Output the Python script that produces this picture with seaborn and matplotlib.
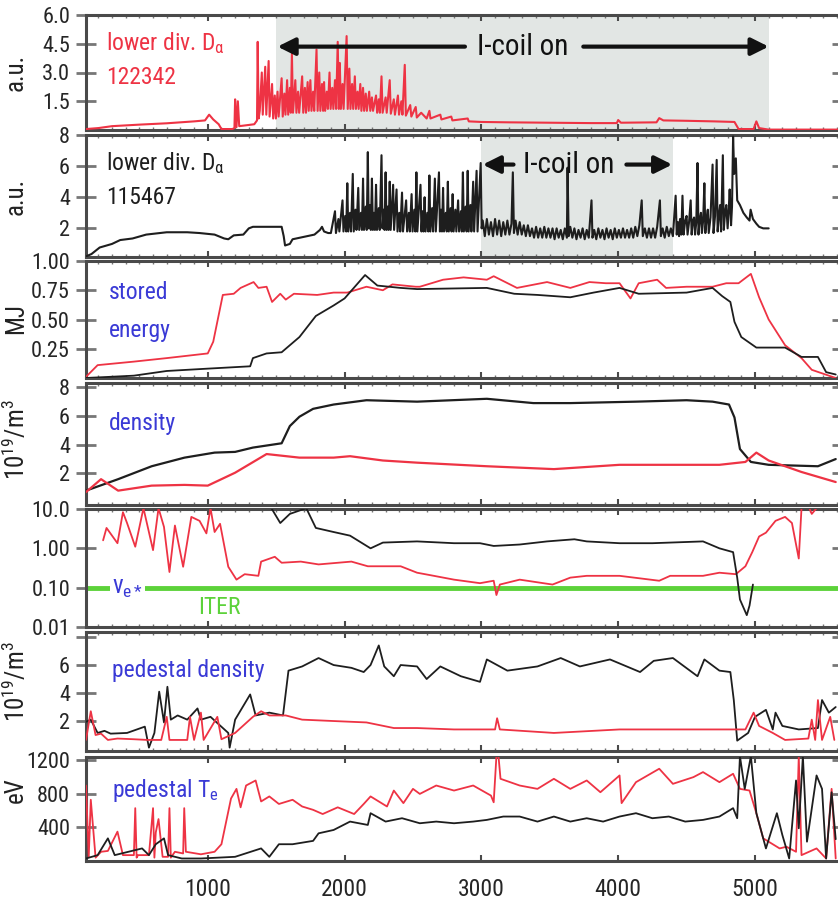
import numpy as np
import pandas as pd
import matplotlib
matplotlib.use("Agg")
import matplotlib.pyplot as plt
from matplotlib import font_manager as fm
from matplotlib.ticker import MultipleLocator, FixedLocator, NullLocator
import seaborn as sns

# ---------------- data ----------------
# Panel 1: lower divertor D-alpha, shot 122342 (a.u.)
da1_t = [110, 200, 300, 500, 700, 900, 980, 1010, 1040, 1080, 1100, 1180, 1195, 1200, 1210, 1220, 1230,
         1340, 1360, 1365, 1372, 1380,
         1395, 1402, 1420, 1428, 1445, 1452, 1470, 1478, 1490, 1498, 1510, 1518, 1540, 1548, 1560, 1568,
         1580, 1588, 1600, 1607, 1615, 1623, 1640, 1648, 1660, 1668, 1690, 1698, 1710, 1718, 1730, 1738,
         1750, 1758, 1770, 1778, 1795, 1803, 1815, 1823, 1835, 1843, 1850, 1858, 1870, 1878, 1890, 1898,
         1910, 1918, 1930, 1938, 1950, 1958, 1965, 1973, 1985, 1993, 2015, 2023, 2035, 2043, 2055, 2063,
         2075, 2083, 2095, 2103, 2115, 2123, 2135, 2143, 2155, 2163, 2180, 2188, 2200, 2208, 2230, 2238,
         2250, 2258, 2270, 2278, 2300, 2308, 2330, 2338, 2360, 2368, 2390, 2398, 2415, 2423, 2440, 2448,
         2480, 2488, 2520, 2528, 2560, 2600, 2620, 2628, 2700, 2708, 2780, 2788, 2900, 2908,
         3000, 3200, 3500, 3800, 3990, 4000, 4020, 4280, 4300, 4330, 4500, 4700, 4850, 4880, 4990,
         5010, 5030, 5100, 5640]
da1_y = [0.05, 0.1, 0.2, 0.28, 0.35, 0.45, 0.5, 0.8, 0.55, 0.3, 0.05, 0.05, 0.1, 1.6, 0.15, 1.5, 0.2,
         0.3, 0.5, 4.6, 0.6, 1.0,
         3.0, 0.8, 3.3, 0.8, 3.6, 0.7, 2.4, 0.6, 1.8, 0.6, 2.0, 0.7, 2.7, 0.7, 1.9, 0.8,
         2.6, 0.8, 2.2, 0.9, 4.0, 0.9, 2.6, 0.9, 2.0, 0.9, 2.8, 0.9, 2.2, 0.9, 2.5, 1.0,
         2.6, 1.0, 2.0, 1.0, 4.2, 1.0, 3.0, 1.0, 2.4, 1.0, 2.5, 1.0, 2.0, 1.1, 3.0, 1.1,
         2.2, 1.1, 2.6, 1.1, 4.6, 1.1, 3.5, 1.1, 2.4, 1.1, 4.9, 1.1, 3.2, 1.1, 2.4, 1.1,
         2.8, 1.1, 2.0, 1.1, 2.4, 1.0, 2.2, 1.0, 1.9, 1.0, 2.0, 1.0, 1.7, 1.0, 1.8, 0.9,
         1.6, 0.9, 2.8, 0.9, 1.7, 0.9, 2.6, 0.85, 1.6, 0.8, 1.8, 0.8, 1.5, 0.8, 3.4, 0.75,
         1.3, 0.7, 1.2, 0.65, 0.9, 0.6, 1.0, 0.6, 0.8, 0.55, 0.7, 0.5, 0.6, 0.45,
         0.42, 0.4, 0.38, 0.36, 0.36, 0.52, 0.38, 0.4, 0.62, 0.5, 0.48, 0.45, 0.42, 0.05, 0.05,
         0.45, 0.1, 0.02, 0.02]

# Panel 2: lower divertor D-alpha, shot 115467 (a.u.)
da2_t = [110, 150, 210, 300, 360, 450, 550, 700, 850, 940, 1050, 1120, 1150, 1190, 1260, 1300, 1330,
         1450, 1540, 1555, 1565, 1600, 1620, 1700, 1780, 1820, 1835, 1850, 1880, 1900,
         1930, 1937, 1955, 1962, 1985, 1992, 2005, 2012, 2020, 2027, 2040, 2047, 2060, 2067, 2080, 2087,
         2100, 2107, 2120, 2127, 2135, 2142, 2155, 2162, 2170, 2177, 2185, 2192, 2200, 2207, 2215, 2222,
         2230, 2237, 2250, 2257, 2270, 2277, 2285, 2292, 2300, 2307, 2315, 2322, 2330, 2337, 2355, 2362,
         2380, 2387, 2400, 2407, 2420, 2427, 2450, 2457, 2470, 2477, 2490, 2497, 2510, 2517, 2525, 2532,
         2555, 2562, 2570, 2577, 2585, 2592, 2605, 2612, 2620, 2627, 2640, 2647, 2660, 2667, 2690, 2697,
         2705, 2712, 2720, 2727, 2740, 2747, 2755, 2762, 2775, 2782, 2790, 2797, 2810, 2817, 2830, 2837,
         2850, 2857, 2865, 2872, 2885, 2892, 2900, 2907, 2920, 2927, 2940, 2947, 2965, 2972, 2995, 3002,
         3010, 3025, 3040, 3055, 3070, 3085, 3100, 3115, 3130, 3145, 3160, 3175, 3190, 3205, 3220, 3230,
         3238, 3250, 3265, 3280, 3295, 3310, 3325, 3340, 3355, 3370, 3385, 3400, 3415, 3430, 3445, 3460,
         3475, 3490, 3505, 3520, 3535, 3550, 3565, 3580, 3595, 3610, 3625, 3630, 3638, 3650, 3665, 3680,
         3695, 3710, 3725, 3740, 3755, 3770, 3785, 3805, 3812, 3825, 3840, 3855, 3870, 3885, 3900, 3915,
         3930, 3945, 3960, 3975, 3990, 4005, 4020, 4035, 4050, 4065, 4080, 4095, 4110, 4125, 4140, 4155,
         4172, 4180, 4195, 4210, 4225, 4240, 4255, 4270, 4285, 4305, 4312, 4325, 4340, 4355, 4370, 4385,
         4400, 4420, 4428, 4437, 4445, 4452, 4461, 4470, 4478, 4490, 4500, 4507, 4518, 4530, 4537, 4546,
         4555, 4562, 4571, 4580, 4587, 4596, 4605, 4612, 4621, 4630, 4637, 4646, 4655, 4662, 4675, 4690,
         4697, 4708, 4720, 4727, 4736, 4745, 4752, 4765, 4772, 4781, 4790, 4800, 4808, 4815, 4825, 4832,
         4840, 4848, 4860, 4870, 4890, 4915, 4940, 4960, 4968, 4985, 5010, 5030, 5060, 5100]
da2_y = [0.2, 0.35, 0.77, 1.0, 1.25, 1.35, 1.6, 1.75, 1.75, 1.7, 1.6, 1.35, 1.3, 1.55, 1.6, 2.0, 2.1,
         2.1, 2.1, 1.5, 0.9, 1.0, 1.3, 1.45, 1.6, 1.9, 2.1, 1.8, 1.7, 1.7,
         3.1, 1.7, 2.6, 1.8, 3.8, 1.8, 2.8, 1.8, 4.9, 1.8, 3.0, 1.8, 5.5, 1.8, 3.2, 1.9,
         4.6, 1.9, 3.0, 1.9, 5.2, 1.9, 3.4, 1.9, 6.9, 2.0, 3.5, 1.9, 5.2, 1.9, 3.0, 1.9,
         4.8, 1.9, 3.3, 1.9, 6.7, 2.0, 3.2, 1.9, 5.6, 1.9, 3.4, 1.9, 5.0, 1.9, 4.8, 1.9,
         4.5, 1.8, 3.0, 1.8, 4.3, 1.8, 3.8, 1.8, 3.0, 1.8, 4.2, 1.8, 3.2, 1.8, 5.6, 1.8,
         4.8, 1.8, 3.1, 1.8, 4.0, 1.8, 3.0, 1.8, 5.4, 1.8, 3.3, 1.8, 5.2, 1.8, 5.6, 1.8,
         3.2, 1.8, 4.6, 1.8, 3.0, 1.8, 5.0, 1.8, 3.3, 1.8, 4.2, 1.8, 3.2, 1.8, 3.8, 1.8,
         3.1, 1.8, 5.6, 1.8, 3.4, 1.8, 5.7, 1.8, 3.5, 1.8, 5.0, 1.8, 5.7, 1.8, 6.2, 2.0,
         2.5, 1.5, 2.6, 1.6, 2.4, 1.5, 2.6, 1.6, 2.5, 1.5, 2.4, 1.6, 2.5, 1.6, 2.3, 5.6,
         1.7, 2.5, 1.6, 2.4, 1.6, 2.2, 1.5, 2.2, 1.5, 2.0, 1.4, 2.1, 1.4, 2.0, 1.4, 2.1,
         1.4, 2.0, 1.4, 2.0, 1.3, 2.0, 1.4, 1.9, 1.3, 2.0, 1.4, 5.9, 1.5, 2.1, 1.4, 2.0,
         1.3, 1.9, 1.4, 2.0, 1.3, 1.9, 1.4, 3.8, 1.4, 1.9, 1.3, 2.0, 1.4, 1.9, 1.3, 2.0,
         1.4, 1.9, 1.3, 2.0, 1.4, 1.9, 1.4, 2.0, 1.4, 1.9, 1.4, 2.0, 1.4, 2.1, 1.5, 2.2,
         3.8, 1.5, 2.0, 1.4, 2.0, 1.4, 2.0, 1.4, 2.1, 3.8, 1.5, 2.0, 1.4, 2.1, 1.5, 2.0,
         1.5, 4.1, 1.6, 2.4, 1.5, 2.6, 1.6, 4.1, 1.6, 2.5, 2.8, 1.6, 2.4, 3.8, 1.6, 2.5,
         2.7, 1.6, 2.4, 6.2, 1.6, 2.6, 3.0, 1.7, 2.5, 4.9, 1.7, 2.6, 3.2, 1.7, 2.7, 6.1,
         1.7, 2.8, 6.4, 1.8, 2.8, 3.5, 1.8, 6.7, 1.9, 3.0, 3.5, 2.0, 3.2, 4.5, 2.2, 3.4,
         7.9, 5.5, 6.5, 3.8, 3.5, 3.0, 2.7, 2.5, 3.2, 2.6, 2.3, 2.1, 2.0, 2.0]

# Panel 3: stored energy (MJ)
we_red_t = [110, 195, 460, 700, 1000, 1040, 1110, 1190, 1240, 1335, 1370, 1430, 1470, 1530, 1570, 1630,
            1800, 1920, 2020, 2160, 2280, 2350, 2520, 2550, 2720, 2870, 3040, 3090, 3260, 3480, 3650,
            3790, 3910, 4010, 4090, 4150, 4285, 4350, 4500, 4690, 4790, 4880, 4970, 5030, 5100, 5220,
            5340, 5415, 5490, 5590]
we_red_y = [0.01, 0.11, 0.14, 0.17, 0.21, 0.31, 0.71, 0.72, 0.77, 0.82, 0.77, 0.78, 0.65, 0.72, 0.67, 0.72,
            0.71, 0.73, 0.73, 0.78, 0.75, 0.80, 0.78, 0.78, 0.84, 0.86, 0.84, 0.87, 0.77, 0.82, 0.77,
            0.82, 0.81, 0.81, 0.68, 0.81, 0.84, 0.77, 0.78, 0.78, 0.81, 0.81, 0.89, 0.69, 0.50, 0.28,
            0.17, 0.07, 0.04, 0.0]
we_blk_t = [110, 460, 700, 1000, 1310, 1330, 1430, 1540, 1670, 1790, 1920, 2000, 2150, 2240, 2410, 2530,
            3040, 3240, 3410, 3650, 3820, 4010, 4150, 4500, 4690, 4760, 4820, 4850, 4900, 5010, 5220,
            5340, 5460, 5520, 5590]
we_blk_y = [0.0, 0.02, 0.06, 0.08, 0.10, 0.17, 0.21, 0.22, 0.35, 0.53, 0.62, 0.68, 0.88, 0.79, 0.77, 0.76,
            0.77, 0.72, 0.71, 0.69, 0.73, 0.77, 0.72, 0.73, 0.77, 0.70, 0.65, 0.48, 0.35, 0.26, 0.26,
            0.18, 0.18, 0.05, 0.03]

# Panel 4: line-averaged density (1e19 m^-3)
ne_blk_t = [110, 345, 590, 830, 1050, 1200, 1330, 1540, 1600, 1670, 1770, 1920, 2160, 2530, 3040, 3380,
            3650, 4130, 4500, 4690, 4810, 4850, 4890, 4970, 5100, 5460, 5590]
ne_blk_y = [0.8, 1.6, 2.5, 3.1, 3.45, 3.5, 3.8, 4.1, 5.3, 5.95, 6.5, 6.8, 7.1, 7.0, 7.2, 6.9,
            6.9, 7.0, 7.1, 7.0, 6.8, 5.9, 3.7, 2.8, 2.6, 2.5, 3.0]
ne_red_t = [110, 220, 345, 590, 830, 1000, 1200, 1430, 1670, 1920, 2040, 2280, 2530, 3040, 3530, 4010,
            4740, 4930, 5010, 5100, 5340, 5590]
ne_red_y = [0.7, 1.6, 0.8, 1.15, 1.2, 1.15, 2.05, 3.35, 3.1, 3.1, 3.2, 2.9, 2.75, 2.5, 2.3, 2.6,
            2.6, 2.8, 3.45, 2.9, 2.1, 1.4]

# Panel 5: collisionality nu_e*
nu_red_t = [235, 260, 340, 380, 410, 470, 530, 600, 640, 680, 720, 760, 820, 880, 940, 990, 1020, 1050,
            1090, 1150, 1210, 1270, 1370, 1390, 1490, 1540, 1680, 1810, 2050, 2170, 2410, 2530, 2620,
            2800, 2990, 3090, 3110, 3135, 3280, 3520, 3650, 3770, 4010, 4300, 4380, 4620, 4740, 4860,
            4930, 4980, 5030, 5080, 5150, 5220, 5270, 5320, 5340, 5390, 5415, 5450]
nu_red_y = [1.6, 3.3, 1.35, 8.3, 4.4, 1.1, 10.5, 0.9, 10.5, 3.5, 0.25, 3.8, 0.34, 6.3, 5.0, 2.4, 10.5, 2.6,
            4.2, 0.34, 0.16, 0.22, 0.20, 0.46, 0.61, 0.43, 0.46, 0.39, 0.46, 0.35, 0.35, 0.24, 0.21,
            0.16, 0.13, 0.15, 0.065, 0.12, 0.16, 0.12, 0.18, 0.20, 0.20, 0.15, 0.20, 0.20, 0.24, 0.22,
            0.35, 0.8, 2.0, 2.5, 5.0, 6.3, 4.4, 0.55, 10.5, 12.0, 7.5, 10.5]
nu_blk_t = [1465, 1530, 1600, 1720, 1790, 1920, 2040, 2190, 2280, 2530, 2800, 2990, 3090, 3280, 3480,
            3680, 3770, 4010, 4250, 4620, 4740, 4840, 4870, 4890, 4940, 4960, 4985]
nu_blk_y = [10.5, 4.4, 7.5, 10.5, 3.3, 2.6, 2.1, 1.0, 1.4, 1.5, 1.35, 1.35, 1.15, 1.25, 1.5,
            1.7, 1.5, 1.35, 1.35, 1.5, 1.0, 0.8, 0.18, 0.05, 0.02, 0.035, 0.12]
iter_nu = 0.1

# Panel 6: pedestal density (1e19 m^-3)
nped_blk_t = [110, 145, 195, 245, 290, 410, 540, 570, 610, 645, 680, 705, 730, 780, 850, 925, 950, 1020,
              1150, 1160, 1200, 1310, 1350, 1450, 1550, 1590, 1690, 1810, 1920, 2050, 2140, 2190, 2250,
              2290, 2360, 2410, 2530, 2600, 2700, 2850, 2990, 3040, 3190, 3410, 3580, 3720, 3940, 4160,
              4260, 4400, 4580, 4630, 4740, 4820, 4845, 4870, 4950, 5000, 5080, 5130, 5150, 5200, 5320,
              5460, 5490, 5540, 5590]
nped_blk_y = [1.95, 2.1, 1.15, 1.3, 1.1, 1.15, 1.6, 0.1, 1.15, 4.1, 1.9, 4.45, 2.1, 2.4, 2.1, 2.9, 2.1, 2.3,
              1.15, 0.1, 2.1, 3.9, 2.4, 2.6, 2.4, 5.6, 5.9, 6.5, 6.0, 5.8, 5.5, 6.0, 7.4,
              5.9, 5.2, 6.0, 5.9, 5.0, 5.9, 5.2, 4.8, 6.4, 5.6, 5.9, 6.5, 5.9, 6.4, 5.5,
              6.3, 6.5, 5.2, 6.4, 5.6, 5.5, 3.5, 0.6, 1.15, 2.3, 2.8, 1.4, 2.6, 1.65, 1.4,
              1.5, 3.5, 2.6, 3.0]
nped_red_t = [110, 145, 180, 220, 270, 340, 460, 560, 660, 700, 720, 850, 870, 900, 950, 970, 1070, 1100,
              1200, 1330, 1390, 1450, 1570, 1690, 1920, 2160, 2360, 2530, 2800, 3100, 3115, 3135, 3530,
              4010, 4930, 4990, 5030, 5130, 5220, 5390, 5415, 5440, 5460, 5490, 5550, 5580]
nped_red_y = [0.65, 2.7, 1.0, 1.1, 0.65, 0.75, 0.7, 0.65, 0.65, 2.3, 0.65, 0.65, 2.3, 0.65, 2.6, 0.65, 2.3, 0.7,
              1.15, 2.3, 2.7, 2.4, 2.4, 2.1, 2.0, 1.9, 1.5, 1.5, 1.4, 1.4, 2.2, 1.4, 1.15,
              1.4, 1.4, 2.6, 1.65, 1.15, 0.65, 0.75, 2.1, 0.65, 3.5, 0.65, 2.3, 0.65]

# Panel 7: pedestal electron temperature (eV)
te_red_t = [110, 130, 145, 180, 220, 270, 340, 380, 460, 470, 480, 490, 570, 600, 610, 620, 640, 670, 710,
            720, 730, 760, 820, 828, 840, 950, 1050, 1100, 1170, 1210, 1240, 1280, 1350, 1390, 1450,
            1520, 1620, 1690, 1770, 1840, 1950, 2070, 2140, 2190, 2310, 2360, 2430, 2500, 2550, 2670,
            2800, 2940, 3070, 3090, 3110, 3125, 3140, 3280, 3410, 3530, 3650, 3770, 3870, 4010, 4025,
            4130, 4300, 4400, 4550, 4620, 4740, 4840, 4890, 4960, 5010, 5060, 5100, 5180, 5230, 5300,
            5320, 5340, 5450, 5520, 5560, 5590]
te_red_y = [900, 50, 730, 40, 110, 120, 350, 70, 70, 630, 40, 70, 70, 630, 40, 340, 500, 50, 50,
            630, 40, 110, 90, 630, 110, 80, 110, 200, 745, 860, 640, 900, 960, 710, 770,
            680, 730, 650, 610, 560, 640, 560, 680, 770, 650, 840, 690, 860, 800, 900,
            840, 900, 780, 700, 1250, 1250, 980, 900, 860, 980, 860, 960, 820, 1020, 690,
            940, 1100, 920, 1000, 1060, 940, 1040, 860, 840, 570, 270, 230, 150, 170, 110,
            1250, 70, 150, 30, 860, 30]
te_blk_t = [110, 195, 270, 320, 420, 520, 570, 620, 680, 710, 810, 950, 1200, 1390, 1450, 1520, 1620,
            1770, 1810, 1920, 2040, 2170, 2190, 2300, 2420, 2550, 2670, 2800, 2940, 3040, 3160, 3280,
            3410, 3530, 3650, 3770, 3890, 4010, 4130, 4250, 4370, 4490, 4620, 4740, 4840, 4870, 4890,
            4925, 4970, 5010, 5080, 5160, 5200, 5250, 5300, 5320, 5350, 5380, 5450, 5490, 5520, 5560,
            5590]
te_blk_y = [30, 70, 270, 70, 110, 150, 70, 200, 270, 70, 30, 30, 50, 150, 50, 200, 200,
            240, 330, 370, 470, 430, 570, 470, 510, 450, 470, 450, 470, 490, 530, 530,
            470, 530, 470, 510, 470, 530, 570, 510, 530, 470, 490, 530, 630, 510, 1250,
            860, 1250, 570, 150, 570, 310, 30, 960, 390, 1250, 230, 1020, 860, 30, 820,
            260]

# ---------------- styling ----------------
sns.set_theme(style="white")
names = {f.name for f in fm.fontManager.ttflist}
FONT = next((f for f in ["Liberation Sans Narrow", "Roboto Condensed", "Open Sans Condensed",
                         "Liberation Sans"] if f in names), "DejaVu Sans")
plt.rcParams["font.family"] = [FONT, "DejaVu Sans"]
plt.rcParams["mathtext.fontset"] = "custom"
plt.rcParams["mathtext.rm"] = FONT
plt.rcParams["mathtext.it"] = FONT
plt.rcParams["mathtext.bf"] = FONT

RED = "#ee3344"
BLK = "#1e1e1e"
BLUE = "#3a3ad6"
GREEN = "#5cd23a"
SHADE = "#e2e6e4"
SPINE = "#4a4a4a"

W, H = 838, 901
fig = plt.figure(figsize=(W / 100, H / 100), dpi=100)

L_PX, R_PX = 86, 842
XMIN, XMAX = 110, 5636
panels = [(15, 130), (135, 257), (261, 378), (383, 505), (509, 627), (632, 751), (757, 861)]
axes = []
for top, bot in panels:
    ax = fig.add_axes([L_PX / W, 1 - bot / H, (R_PX - L_PX) / W, (bot - top) / H])
    ax.set_xlim(XMIN, XMAX)
    ax.xaxis.set_major_locator(MultipleLocator(1000))
    ax.xaxis.set_minor_locator(MultipleLocator(100))
    ax.tick_params(axis="x", which="major", direction="in", top=True, bottom=True,
                   length=4, width=1.5, color=SPINE, labelbottom=False, labelsize=17, pad=12)
    ax.tick_params(axis="x", which="minor", direction="in", top=True, bottom=True,
                   length=2.5, width=1, color="#777777")
    ax.tick_params(axis="y", which="major", direction="inout", left=True, right=True,
                   length=15, width=2, color="#777777", labelsize=16, pad=4)
    ax.tick_params(axis="y", which="minor", left=False, right=False)
    for s in ax.spines.values():
        s.set_color(SPINE)
        s.set_linewidth(2.2)
    ax.set_facecolor("white")
    axes.append(ax)

ax1, ax2, ax3, ax4, ax5, ax6, ax7 = axes


def line(ax, t, y, color, lw=1.3, z=3):
    df = pd.DataFrame({"t": t, "y": y})
    sns.lineplot(data=df, x="t", y="y", ax=ax, color=color, lw=lw, estimator=None,
                 sort=False, legend=False, zorder=z)
    ax.set_xlabel("")
    ax.set_ylabel("")


# Panel 1
ax1.axvspan(1500, 5100, color=SHADE, zorder=0, lw=0)
line(ax1, da1_t, da1_y, RED, lw=1.5)
ax1.set_ylim(0, 6.0)
ax1.yaxis.set_major_locator(FixedLocator([1.5, 3.0, 4.5, 6.0]))
ax1.set_yticklabels(["1.5", "3.0", "4.5", "6.0"])
ax1.text(0.027, 0.76, r"lower div. $\mathregular{D_{\alpha}}$", transform=ax1.transAxes,
         color=RED, fontsize=17, va="center", ha="left")
ax1.text(0.027, 0.46, "122342", transform=ax1.transAxes, color=RED, fontsize=17, va="center", ha="left")
arw = dict(arrowstyle="-|>", lw=3, color="#111111", mutation_scale=26, shrinkA=0, shrinkB=0)
ax1.annotate("", xy=(1510, 4.35), xytext=(2880, 4.35), arrowprops=arw, zorder=5)
ax1.annotate("", xy=(5100, 4.35), xytext=(3745, 4.35), arrowprops=arw, zorder=5)
ax1.text(3300, 4.35, "I-coil on", fontsize=21, ha="center", va="center", color="#111111")

# Panel 2
ax2.axvspan(3000, 4400, color=SHADE, zorder=0, lw=0)
line(ax2, da2_t, da2_y, BLK, lw=1.5)
ax2.set_ylim(0.16, 8.0)
ax2.yaxis.set_major_locator(FixedLocator([2, 4, 6, 8]))
ax2.set_yticklabels(["2", "4", "6", "8"])
ax2.text(0.027, 0.77, r"lower div. $\mathregular{D_{\alpha}}$", transform=ax2.transAxes,
         color=BLK, fontsize=17, va="center", ha="left")
ax2.text(0.027, 0.49, "115467", transform=ax2.transAxes, color=BLK, fontsize=17, va="center", ha="left")
ax2.annotate("", xy=(3010, 6.1), xytext=(3235, 6.1), arrowprops=arw, zorder=5)
ax2.annotate("", xy=(4395, 6.1), xytext=(4060, 6.1), arrowprops=arw, zorder=5)
ax2.text(3640, 6.1, "I-coil on", fontsize=21, ha="center", va="center", color="#111111")

# Panel 3
line(ax3, we_red_t, we_red_y, RED)
line(ax3, we_blk_t, we_blk_y, BLK)
ax3.set_ylim(0, 1.0)
ax3.yaxis.set_major_locator(FixedLocator([0.25, 0.5, 0.75, 1.0]))
ax3.set_yticklabels(["0.25", "0.50", "0.75", "1.00"])
ax3.text(0.03, 0.73, "stored", transform=ax3.transAxes, color=BLUE, fontsize=17, va="center")
ax3.text(0.03, 0.41, "energy", transform=ax3.transAxes, color=BLUE, fontsize=17, va="center")

# Panel 4
line(ax4, ne_blk_t, ne_blk_y, BLK, lw=1.6)
line(ax4, ne_red_t, ne_red_y, RED, lw=1.6)
ax4.set_ylim(-0.2, 8.3)
ax4.yaxis.set_major_locator(FixedLocator([2, 4, 6, 8]))
ax4.set_yticklabels(["2", "4", "6", "8"])
ax4.text(0.03, 0.67, "density", transform=ax4.transAxes, color=BLUE, fontsize=17, va="center")

# Panel 5 (log)
ax5.set_yscale("log")
ax5.axhline(iter_nu, color=GREEN, lw=3.5, zorder=2)
line(ax5, nu_red_t, nu_red_y, RED)
line(ax5, nu_blk_t, nu_blk_y, BLK)
ax5.set_ylim(0.01, 10)
ax5.yaxis.set_major_locator(FixedLocator([0.01, 0.1, 1, 10]))
ax5.yaxis.set_minor_locator(NullLocator())
ax5.set_yticklabels(["0.01", "0.10", "1.00", "10.0"])
ax5.text(0.034, 0.33, r"$\mathregular{\nu_{e*}}$", transform=ax5.transAxes, color=BLUE, fontsize=18,
         va="center", bbox=dict(facecolor="white", edgecolor="none", pad=1.5), zorder=6)
ax5.text(0.148, 0.165, "ITER", transform=ax5.transAxes, color=GREEN, fontsize=17, va="center")

# Panel 6
line(ax6, nped_blk_t, nped_blk_y, BLK)
line(ax6, nped_red_t, nped_red_y, RED)
ax6.set_ylim(-0.14, 8.36)
ax6.yaxis.set_major_locator(FixedLocator([2, 4, 6, 8]))
ax6.set_yticklabels(["2", "4", "6", ""])
ax6.text(0.034, 0.68, "pedestal density", transform=ax6.transAxes, color=BLUE, fontsize=17, va="center")

# Panel 7
line(ax7, te_red_t, te_red_y, RED)
line(ax7, te_blk_t, te_blk_y, BLK)
ax7.set_ylim(0, 1240)
ax7.yaxis.set_major_locator(FixedLocator([400, 800, 1200]))
ax7.set_yticklabels(["400", "800", "1200"])
ax7.text(0.034, 0.68, r"pedestal $\mathregular{T_e}$", transform=ax7.transAxes, color=BLUE, fontsize=17,
         va="center")
ax7.tick_params(axis="x", which="major", labelbottom=True)
ax7.xaxis.set_major_locator(FixedLocator([1000, 2000, 3000, 4000, 5000]))
ax7.xaxis.set_minor_locator(NullLocator())

for ax in axes[:-1]:
    for lab in ax.get_xticklabels():
        lab.set_visible(False)

# y-axis labels
ylab = dict(rotation=90, ha="center", va="center", fontsize=18, color="#222222")
fig.text(16 / W, 1 - 72 / H, "a.u.", **ylab)
fig.text(16 / W, 1 - 196 / H, "a.u.", **ylab)
fig.text(16 / W, 1 - 318 / H, "MJ", **ylab)
fig.text(16 / W, 1 - 440 / H, r"$\mathregular{10^{19}/m^3}$", **ylab)
fig.text(16 / W, 1 - 682 / H, r"$\mathregular{10^{19}/m^3}$", **ylab)
fig.text(16 / W, 1 - 790 / H, "eV", **ylab)

fig.savefig("out.png", dpi=100)
